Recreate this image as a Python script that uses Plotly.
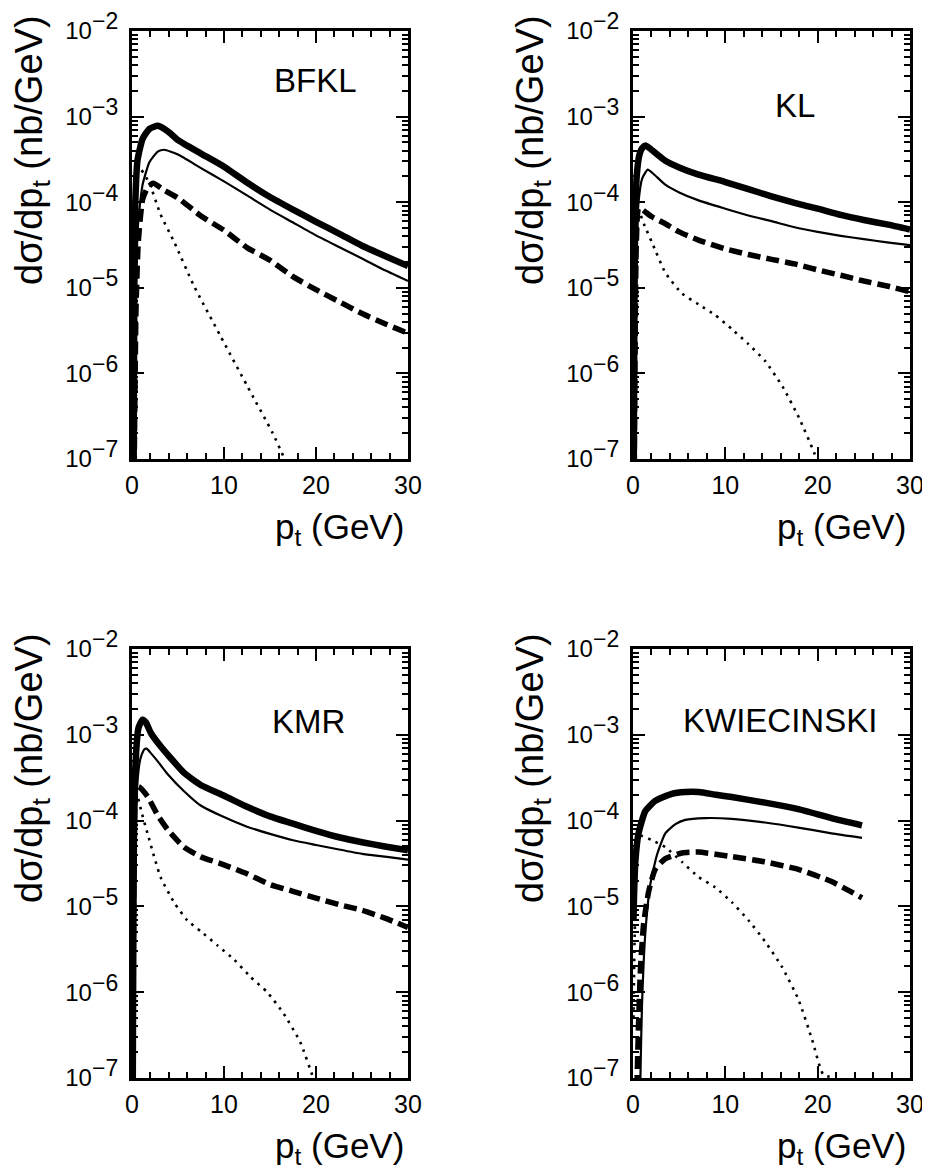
import plotly.graph_objects as go

# ---------------- data (pt in GeV, dsigma/dpt in nb/GeV) ----------------
panel_names = ["BFKL", "KL", "KMR", "KWIECINSKI"]

# BFKL
bfkl_thick_x = [0.1, 0.18, 0.25, 0.36, 0.6, 1.15, 1.9, 2.8, 4, 5, 7.5, 10, 12.5, 15, 17.5, 20, 22.5, 25, 27.5, 30]
bfkl_thick_y = [1e-8, 1e-7, 1e-5, 1e-4, 3.1e-4, 5.5e-4, 7.2e-4, 7.8e-4, 6.6e-4, 5.3e-4, 3.7e-4, 2.6e-4, 1.7e-4, 1.15e-4, 8.2e-5, 5.9e-5, 4.3e-5, 3.1e-5, 2.35e-5, 1.8e-5]
bfkl_thin_x = [0.2, 0.25, 0.43, 0.68, 1.15, 1.9, 2.8, 3.5, 5, 7.5, 10, 12.5, 15, 17.5, 20, 22.5, 25, 27.5, 30]
bfkl_thin_y = [1e-8, 1e-7, 1.1e-5, 6e-5, 1.6e-4, 2.95e-4, 3.9e-4, 4.1e-4, 3.6e-4, 2.5e-4, 1.75e-4, 1.2e-4, 8.2e-5, 5.8e-5, 4.1e-5, 3.0e-5, 2.2e-5, 1.6e-5, 1.2e-5]
bfkl_dash_x = [0.2, 0.25, 0.43, 0.68, 1.15, 1.7, 2.3, 3.5, 5, 7.5, 10, 12.5, 15, 17.5, 20, 22.5, 25, 27.5, 30]
bfkl_dash_y = [1e-8, 1e-7, 5.4e-6, 3.4e-5, 1.07e-4, 1.48e-4, 1.66e-4, 1.38e-4, 1.12e-4, 6.9e-5, 4.7e-5, 2.95e-5, 2.1e-5, 1.35e-5, 9.5e-6, 6.9e-6, 5.0e-6, 3.8e-6, 2.95e-6]
bfkl_dot_x = [0.2, 0.35, 0.5, 0.7, 1.0, 1.9, 3.1, 4.6, 6.7, 9.6, 12.5, 15.3, 16.5, 17]
bfkl_dot_y = [1e-8, 3e-6, 1e-4, 2.5e-4, 2.4e-4, 1.66e-4, 7.2e-5, 3.4e-5, 1.07e-5, 2.75e-6, 7.2e-7, 2.0e-7, 1.05e-7, 8e-8]

# KL
kl_thick_x = [0.05, 0.12, 0.2, 0.4, 0.7, 1.0, 1.35, 2, 3.5, 5, 7.1, 10, 12.5, 15, 17.5, 20, 22.5, 25, 27.5, 30]
kl_thick_y = [1e-8, 1e-6, 3e-5, 2e-4, 3.6e-4, 4.3e-4, 4.6e-4, 4.1e-4, 3.05e-4, 2.55e-4, 2.1e-4, 1.72e-4, 1.42e-4, 1.17e-4, 9.8e-5, 8.4e-5, 7.1e-5, 6.2e-5, 5.5e-5, 4.8e-5]
kl_thin_x = [0.1, 0.2, 0.35, 0.6, 1.0, 1.6, 2.2, 3.5, 5, 7.1, 10, 12.5, 15, 17.5, 20, 22.5, 25, 27.5, 30]
kl_thin_y = [1e-8, 1e-6, 2e-5, 1e-4, 1.9e-4, 2.4e-4, 2.15e-4, 1.6e-4, 1.3e-4, 1.05e-4, 8.4e-5, 7e-5, 6e-5, 5.1e-5, 4.5e-5, 4.05e-5, 3.7e-5, 3.4e-5, 3.15e-5]
kl_dash_x = [0.1, 0.2, 0.35, 0.6, 1.0, 2, 3.5, 5, 7.1, 10, 12.5, 15, 17.5, 20, 22.5, 25, 27.5, 30]
kl_dash_y = [1e-8, 1e-6, 3e-5, 8.5e-5, 8.2e-5, 6.8e-5, 5.6e-5, 4.5e-5, 3.6e-5, 2.85e-5, 2.45e-5, 2.15e-5, 1.9e-5, 1.62e-5, 1.4e-5, 1.2e-5, 1.05e-5, 9e-6]
kl_dot_x = [0.1, 0.2, 0.35, 0.6, 1.2, 2.1, 3.5, 5.3, 7.1, 8.9, 10.7, 12.5, 14.3, 16.2, 18, 19.6, 20.2]
kl_dot_y = [1e-8, 1e-6, 3e-5, 8e-5, 5.5e-5, 3.3e-5, 1.5e-5, 8.6e-6, 6.4e-6, 4.8e-6, 3.3e-6, 2.2e-6, 1.4e-6, 7e-7, 3e-7, 1.2e-7, 8e-8]

# KMR
kmr_thick_x = [0.05, 0.12, 0.2, 0.4, 0.7, 1.15, 1.5, 2.05, 3, 3.86, 5.66, 7.46, 10, 12.5, 15, 17.5, 20, 22.5, 25, 27.5, 30]
kmr_thick_y = [1e-8, 1e-6, 5e-5, 5e-4, 1.2e-3, 1.5e-3, 1.4e-3, 1.05e-3, 7.6e-4, 5.9e-4, 3.6e-4, 2.6e-4, 1.95e-4, 1.45e-4, 1.12e-4, 9.2e-5, 7.6e-5, 6.4e-5, 5.6e-5, 5e-5, 4.5e-5]
kmr_thin_x = [0.1, 0.18, 0.3, 0.55, 0.9, 1.3, 1.6, 2.0, 2.8, 3.86, 5.66, 7.46, 10, 12.5, 15, 17.5, 20, 22.5, 25, 27.5, 30]
kmr_thin_y = [1e-8, 1e-6, 4e-5, 2.5e-4, 5.2e-4, 6.7e-4, 6.9e-4, 6.2e-4, 4.9e-4, 3.5e-4, 2.2e-4, 1.5e-4, 1.1e-4, 8.5e-5, 7e-5, 5.9e-5, 5.2e-5, 4.6e-5, 4.1e-5, 3.8e-5, 3.5e-5]
kmr_dash_x = [0.05, 0.12, 0.25, 0.45, 0.8, 1.7, 2.8, 3.86, 5.66, 7.46, 10, 12.5, 15, 17.5, 20, 22.5, 25, 27.5, 30]
kmr_dash_y = [1e-8, 1e-6, 8e-5, 2.5e-4, 2.45e-4, 1.9e-4, 1.15e-4, 7.9e-5, 4.9e-5, 3.8e-5, 3.05e-5, 2.4e-5, 1.8e-5, 1.5e-5, 1.25e-5, 1.05e-5, 9e-6, 7.3e-6, 5.7e-6]
kmr_dot_x = [0.05, 0.12, 0.25, 0.45, 1.0, 1.7, 3.1, 4.6, 6.0, 7.5, 9.3, 11.1, 12.9, 14.7, 16.5, 18.3, 19.7, 20.2]
kmr_dot_y = [1e-8, 1e-6, 8e-5, 2.2e-4, 1.3e-4, 7e-5, 2.2e-5, 1.1e-5, 6.9e-6, 5.1e-6, 3.5e-6, 2.4e-6, 1.5e-6, 1e-6, 5.6e-7, 2.6e-7, 1e-7, 7e-8]

# KWIECINSKI
kw_thick_x = [0.05, 0.1, 0.25, 0.6, 1.33, 2.4, 4.2, 5.66, 7.1, 9, 10.7, 14.3, 17.9, 21.5, 24.8]
kw_thick_y = [7e-6, 1.2e-5, 3.3e-5, 7.1e-5, 1.29e-4, 1.7e-4, 2.05e-4, 2.15e-4, 2.15e-4, 2.0e-4, 1.88e-4, 1.62e-4, 1.36e-4, 1.07e-4, 8.8e-5]
kw_thin_x = [0.7, 0.8, 0.97, 1.33, 1.87, 2.6, 3.5, 4.6, 5.66, 7.8, 10.7, 14.3, 17.9, 21.5, 24.8]
kw_thin_y = [1e-8, 1e-7, 6.8e-7, 4.8e-6, 1.8e-5, 4e-5, 7.1e-5, 9.1e-5, 1.02e-4, 1.07e-4, 1.05e-4, 9.5e-5, 8.3e-5, 7.1e-5, 6.3e-5]
kw_dash_x = [0.4, 0.45, 0.6, 0.8, 1.15, 1.7, 2.4, 3.5, 5.3, 7.1, 10.7, 14.3, 17.9, 21.5, 24.8]
kw_dash_y = [1e-8, 1e-7, 4.2e-7, 1.8e-6, 6.3e-6, 1.5e-5, 2.7e-5, 3.6e-5, 4.2e-5, 4.3e-5, 3.8e-5, 3.3e-5, 2.7e-5, 1.95e-5, 1.26e-5]
kw_dot_x = [0.05, 0.15, 0.3, 0.5, 1.0, 2.06, 3.5, 5.3, 7.1, 8.9, 10.7, 12.5, 14.3, 16.1, 17.9, 19.4, 20.6, 22]
kw_dot_y = [5e-7, 3e-6, 2e-5, 6.8e-5, 6.6e-5, 5.9e-5, 4.9e-5, 3.3e-5, 2.2e-5, 1.67e-5, 1.12e-5, 6.9e-6, 3.9e-6, 2e-6, 8.3e-7, 2.8e-7, 1.1e-7, 1.0e-7]

panels = [
    (bfkl_thick_x, bfkl_thick_y, bfkl_thin_x, bfkl_thin_y, bfkl_dash_x, bfkl_dash_y, bfkl_dot_x, bfkl_dot_y),
    (kl_thick_x, kl_thick_y, kl_thin_x, kl_thin_y, kl_dash_x, kl_dash_y, kl_dot_x, kl_dot_y),
    (kmr_thick_x, kmr_thick_y, kmr_thin_x, kmr_thin_y, kmr_dash_x, kmr_dash_y, kmr_dot_x, kmr_dot_y),
    (kw_thick_x, kw_thick_y, kw_thin_x, kw_thin_y, kw_dash_x, kw_dash_y, kw_dot_x, kw_dot_y),
]

x_tickvals = [0, 10, 20, 30]
x_minor = [2, 4, 6, 8, 12, 14, 16, 18, 22, 24, 26, 28]
y_exponents = [-7, -6, -5, -4, -3, -2]
y_tickvals = [10.0 ** e for e in y_exponents]
y_ticktext = ["10<sup><span style='font-size:23px'>\u2212%d</span></sup>" % (-e) for e in y_exponents]
y_minor = [m * 10.0 ** e for e in y_exponents[:-1] for m in range(2, 10)]

# ---------------- layout geometry (page pixels) ----------------
OFF = 8                      # default body margin of the html page
W, H = 930 - OFF, 1173 - OFF
FONT = "Liberation Sans"
cols = [(132, 408), (633, 910)]
rows = [(31, 459), (649, 1078)]
label_pos = [(315, 80), (795, 105), (308, 721), (780, 720)]


def px(x):
    return (x - OFF) / W


def py(y):
    return 1 - (y - OFF) / H


fig = go.Figure()
layout = dict(width=W, height=H, margin=dict(l=0, r=0, t=0, b=0, autoexpand=False),
              paper_bgcolor="white", plot_bgcolor="white", showlegend=False,
              font=dict(family=FONT, color="black"))
annotations = []

for i, p in enumerate(panels):
    r, c = divmod(i, 2)
    ax = "" if i == 0 else str(i + 1)
    xa, ya = "x" + ax, "y" + ax
    thx, thy, tnx, tny, dsx, dsy, dtx, dty = p
    common = dict(xaxis=xa, yaxis=ya, mode="lines", hoverinfo="skip")
    fig.add_trace(go.Scatter(x=dtx, y=dty, line=dict(color="black", width=2.6, dash="2.6px,5.5px",
                                                     shape="spline", smoothing=0.5), **common))
    fig.add_trace(go.Scatter(x=dsx, y=dsy, line=dict(color="black", width=5.5, dash="13px,6px",
                                                     shape="spline", smoothing=0.5), **common))
    fig.add_trace(go.Scatter(x=tnx, y=tny, line=dict(color="black", width=2.2,
                                                     shape="spline", smoothing=0.5), **common))
    fig.add_trace(go.Scatter(x=thx, y=thy, line=dict(color="black", width=6.5,
                                                     shape="spline", smoothing=0.5), **common))

    x0, x1 = cols[c]
    y0, y1 = rows[r]
    axis_common = dict(showline=True, linewidth=3, linecolor="black", mirror="allticks",
                       ticks="inside", ticklen=12, tickwidth=2, tickcolor="black",
                       showgrid=False, zeroline=False, automargin=False)
    layout["xaxis" + ax] = dict(domain=[px(x0), px(x1)], anchor=ya, range=[0, 30],
                                tickmode="array", tickvals=x_tickvals,
                                tickfont=dict(size=25, family=FONT), ticklabelstandoff=2,
                                minor=dict(tickmode="array", tickvals=x_minor, ticks="inside",
                                           ticklen=6, tickwidth=2, tickcolor="black"),
                                **axis_common)
    layout["yaxis" + ax] = dict(domain=[py(y1), py(y0)], anchor=xa, type="log",
                                range=[-7, -2], tickmode="array", tickvals=y_tickvals,
                                ticktext=y_ticktext, tickfont=dict(size=24, family=FONT),
                                ticklabelstandoff=6,
                                minor=dict(tickmode="array", tickvals=y_minor, ticks="inside",
                                           ticklen=6, tickwidth=2, tickcolor="black"),
                                **axis_common)

    lx, ly = label_pos[i]
    annotations.append(dict(text=panel_names[i], x=px(lx), y=py(ly), xref="paper", yref="paper",
                            showarrow=False, xanchor="center", yanchor="middle",
                            font=dict(size=33, family=FONT, color="black")))
    annotations.append(dict(text="d\u03c3/dp<sub>t</sub> (nb/GeV)", textangle=-90,
                            x=px(x0 - 100), y=py(y0 + 119), xref="paper", yref="paper",
                            showarrow=False, xanchor="center", yanchor="middle",
                            font=dict(size=38, family=FONT, color="black")))
    annotations.append(dict(text="p<sub>t</sub> (GeV)",
                            x=px(x1 - 2), y=py(y1 + 70), xref="paper", yref="paper",
                            showarrow=False, xanchor="right", yanchor="middle",
                            font=dict(size=35, family=FONT, color="black")))

layout["annotations"] = annotations
fig.update_layout(**layout)
fig.write_html("out.html")
